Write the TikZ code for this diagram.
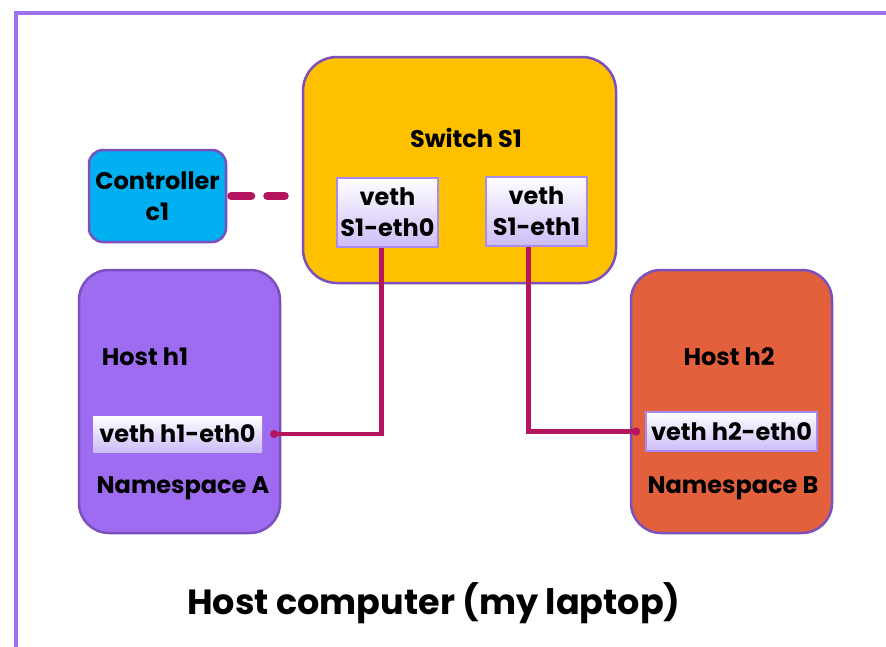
\documentclass[tikz,border=0pt]{standalone}
\usepackage{fontspec}
\setmainfont{Poppins}
\usepackage{tikz}
\usetikzlibrary{arrows.meta,positioning,calc}
\definecolor{framepurple}{RGB}{160,112,240}
\definecolor{edgepurple}{RGB}{123,80,190}
\definecolor{portpurple}{RGB}{168,138,240}
\definecolor{portshade}{RGB}{205,188,248}
\definecolor{switchyellow}{RGB}{255,192,0}
\definecolor{ctlblue}{RGB}{0,176,240}
\definecolor{hostpurple}{RGB}{157,108,240}
\definecolor{hostorange}{RGB}{226,96,60}
\definecolor{linkred}{RGB}{181,21,95}
\tikzset{
    box/.style={draw=edgepurple, line width=2.5pt, inner sep=0pt},
    port/.style={draw=portpurple, line width=2pt, top color=white, middle color=white,
        bottom color=portshade, inner sep=0pt},
    lbl/.style={font=\bfseries\fontsize{24}{26}\selectfont, inner sep=0pt},
    link/.style={linkred, line width=4.5pt, {Circle[length=8pt]}-},
    ctrl/.style={linkred, line width=8pt, line cap=round, dash pattern=on 20pt off 16pt}
}

\begin{document}
\begin{tikzpicture}[x=1pt, y=-1pt]
    \useasboundingbox (0,0) rectangle (886,646);
    \clip (0,0) rectangle (886,646);
    \fill[white] (0,0) rectangle (886,646);
    % outer frame, runs off the right and bottom edges
    \draw[framepurple, line width=4pt] (16,13) rectangle (920,700);

    % switch with its two ports
    \node[box, fill=switchyellow, rounded corners=34pt, minimum width=313pt, minimum height=226pt] (sw) at (459.5,170) {};
    \node[lbl] (swlbl) at (466,138) {Switch S1};
    \node[port, minimum width=101pt, minimum height=69pt, lbl, align=center] (p0) at (387.5,212.5) {veth\\[5pt]S1-eth0};
    \node[port, minimum width=101pt, minimum height=69pt, lbl, align=center] (p1) at (536.5,211.5) {veth\\[5pt]S1-eth1};

    % controller
    \node[box, fill=ctlblue, rounded corners=14pt, minimum width=137pt, minimum height=92pt, lbl, align=center] (ctl) at (157.5,196) {Controller\\[5pt]c1};

    % host namespaces
    \node[box, fill=hostpurple, rounded corners=30pt, minimum width=201pt, minimum height=263pt] (h1) at (179.5,401.5) {};
    \node[lbl] (h1lbl) at (145,357) {Host h1};
    \node[draw=none, top color=white, middle color=white, bottom color=portshade, minimum width=169pt, minimum height=36pt, lbl] (vh1) at (177.5,434) {veth h1-eth0};
    \node[lbl] (nsa) at (183,488) {Namespace A};

    \node[box, fill=hostorange, rounded corners=30pt, minimum width=201pt, minimum height=263pt] (h2) at (731.5,401.5) {};
    \node[lbl] (h2lbl) at (729,357) {Host h2};
    \node[port, minimum width=171pt, minimum height=39pt, lbl] (vh2) at (731.5,431.5) {veth h2-eth0};
    \node[lbl] (nsb) at (733,488) {Namespace B};

    % caption
    \node[font=\bfseries\fontsize{35}{40}\selectfont, inner sep=0pt] (cap) at (434,603) {Host computer (my laptop)};

    % links
    \draw[ctrl, shorten <=4pt, shorten >=17pt] (ctl.east) -- (sw.west |- ctl.east);
    \draw[link] ([xshift=8pt]vh1.east) -| ([xshift=-6pt]p0.south);
    \draw[link] ([xshift=-5pt]vh2.west) -| ([xshift=-8pt]p1.south);
\end{tikzpicture}
\end{document}
